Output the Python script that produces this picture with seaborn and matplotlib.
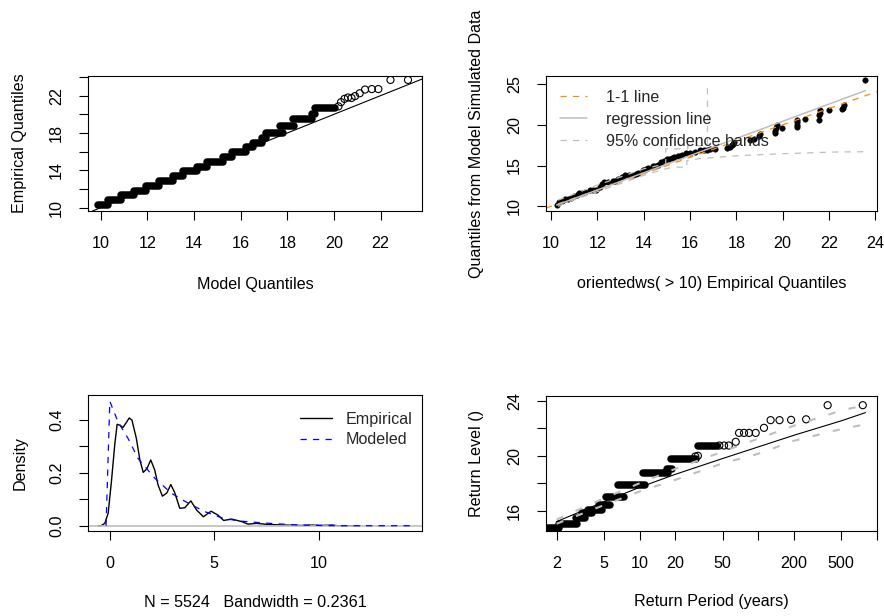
import numpy as np
import pandas as pd
import matplotlib
matplotlib.use("Agg")
import matplotlib.pyplot as plt
from matplotlib.ticker import NullLocator
import seaborn as sns

# ---------------- Quantile plot: empirical vs model quantiles ----------------
# tied empirical values form runs along the model-quantile axis
qq_level = [10.29, 10.80, 11.32, 11.83, 12.35, 12.86, 13.37, 13.89, 14.40, 14.92,
            15.43, 15.95, 16.46, 16.98, 17.49, 18.00, 18.75, 19.55, 20.06, 20.70]
qq_model_start = [9.90, 10.31, 10.88, 11.42, 11.95, 12.50, 13.10, 13.55, 14.15, 14.55,
                  15.25, 15.65, 16.25, 16.55, 16.90, 17.10, 17.70, 18.25, 19.05, 19.20]
qq_model_end = [10.31, 10.88, 11.42, 11.95, 12.50, 13.10, 13.55, 14.15, 14.55, 15.25,
                15.65, 16.25, 16.55, 16.90, 17.10, 17.80, 18.30, 19.05, 19.20, 20.05]
qq_tail_model = [20.19, 20.30, 20.45, 20.60, 20.75, 20.90, 21.10, 21.33, 21.62, 21.90, 22.42, 23.17]
qq_tail_emp = [20.85, 21.30, 21.65, 21.80, 21.75, 21.95, 22.25, 22.65, 22.70, 22.70, 23.68, 23.68]
ref_line = (0.0, 1.0)  # intercept, slope

# ---------------- Simulated vs empirical quantiles ----------------
sim_emp = [10.24, 10.36, 10.45, 10.58, 10.72, 10.86, 11.00, 11.10, 11.22, 11.35, 11.45,
           11.66, 11.80, 11.94, 12.10, 12.20, 12.30, 12.45, 12.66, 12.78, 12.90, 13.05,
           13.17, 13.35, 13.53, 13.65, 13.75, 13.96, 14.08, 14.20, 14.39, 14.50, 14.60,
           14.75, 14.88, 15.00, 15.11, 15.20, 15.30, 15.47, 15.56, 15.65, 15.83, 16.00,
           16.20, 16.44, 16.60, 16.73, 16.87, 17.09, 17.60, 17.74, 17.80, 17.85, 17.88,
           18.60, 18.75, 18.96, 19.00, 19.65, 19.68, 19.72, 19.75, 19.97, 20.62, 20.62,
           20.62, 20.62, 20.98, 21.58, 21.58, 21.60, 21.62, 21.99, 22.56, 22.60, 22.63,
           23.57]
sim_model = [10.20, 10.50, 10.60, 10.90, 10.95, 11.03, 11.20, 11.40, 11.60, 11.65, 11.70,
             11.94, 11.95, 12.00, 12.40, 12.70, 12.96, 13.00, 13.09, 13.15, 13.30, 13.55,
             13.79, 13.85, 13.90, 14.00, 14.10, 14.40, 14.55, 14.65, 14.90, 15.00, 15.10,
             15.43, 15.60, 15.80, 15.84, 15.90, 16.00, 16.13, 16.20, 16.30, 16.54, 16.60,
             16.70, 16.86, 16.88, 16.90, 17.07, 17.00, 17.10, 17.30, 17.50, 17.70, 17.90,
             18.10, 18.30, 18.60, 18.90, 19.00, 19.30, 19.60, 19.95, 19.60, 19.75, 20.00,
             20.30, 20.60, 20.70, 20.60, 21.20, 21.50, 21.80, 21.80, 21.90, 22.10, 22.40,
             25.50]
reg_x = [10.24, 23.57]
reg_y = [10.15, 24.20]
band_up_x = [10.30, 11.00, 12.00, 13.00, 14.00, 14.95, 14.95, 15.90, 15.90, 16.75, 16.75]
band_up_y = [10.75, 11.50, 12.60, 13.60, 14.60, 15.20, 17.05, 17.05, 17.45, 17.45, 25.10]
band_lo_x = [10.30, 11.00, 12.00, 13.00, 14.00, 14.95, 15.30, 15.86, 15.86, 16.40, 17.10, 18.00, 20.00, 22.20, 23.64]
band_lo_y = [10.00, 10.80, 11.80, 12.80, 13.80, 14.60, 14.80, 14.80, 15.60, 15.85, 16.00, 16.20, 16.45, 16.66, 16.70]

# ---------------- Density of excesses ----------------
emp_x = [-0.55, -0.42, -0.24, -0.08, 0.08, 0.24, 0.35, 0.50, 0.63, 0.80, 0.93, 1.06, 1.27,
         1.44, 1.60, 1.77, 1.96, 2.15, 2.31, 2.52, 2.73, 2.92, 3.11, 3.35, 3.59, 3.88, 4.16,
         4.48, 4.85, 5.18, 5.45, 5.84, 6.30, 6.62, 7.02, 7.54, 8.35, 9.15, 9.71, 10.10,
         10.67, 10.90, 12.00]
emp_y = [0.0, 0.0, 0.009, 0.047, 0.17, 0.31, 0.384, 0.380, 0.372, 0.392, 0.408, 0.400, 0.331,
         0.249, 0.202, 0.215, 0.249, 0.211, 0.154, 0.112, 0.124, 0.156, 0.125, 0.066, 0.068,
         0.094, 0.059, 0.034, 0.055, 0.040, 0.020, 0.025, 0.016, 0.006, 0.009, 0.005, 0.0025,
         0.001, 0.0025, 0.001, 0.0025, 0.0, 0.0]
mod_x = [-0.18, 0.0, 0.39, 0.87, 1.35, 2.15, 2.95, 3.76, 4.56, 5.36, 6.16, 6.96, 8.00,
         9.15, 10.75, 12.50, 14.40]
mod_y = [0.0, 0.471, 0.394, 0.331, 0.255, 0.180, 0.123, 0.085, 0.053, 0.030, 0.018, 0.013,
         0.007, 0.0025, 0.0, 0.0, 0.0]
density_label = "N = 5524   Bandwidth = 0.2361"

# ---------------- Return level plot ----------------
rl_level = [14.76, 15.01, 15.45, 15.80, 16.05, 16.45, 17.00, 17.87, 18.72, 19.03, 19.76, 20.73]
rl_period_start = [1.55, 2.11, 2.90, 3.30, 3.70, 4.60, 5.20, 6.60, 10.60, 17.00, 18.40, 30.80]
rl_period_end = [2.11, 3.00, 3.50, 4.00, 4.80, 5.60, 7.40, 11.20, 17.50, 18.80, 30.00, 45.00]
rl_tail_period = [29.5, 31.0, 47.0, 51.5, 56.5, 64.6, 68.9, 75.9, 83.6, 95.1, 111.7,
                  127.0, 151.0, 189.0, 253.0, 384.0, 759.0]
rl_tail_level = [19.95, 20.00, 20.75, 20.75, 20.75, 21.02, 21.67, 21.67, 21.67, 21.67, 22.04,
                 22.60, 22.60, 22.62, 22.66, 23.69, 23.69]
fit_period = [2, 5, 10, 20, 50, 100, 200, 500, 800]
fit_level = [15.20, 16.65, 17.70, 18.65, 19.80, 20.65, 21.50, 22.55, 23.15]
fit_upper = [15.35, 16.90, 18.00, 19.05, 20.30, 21.25, 22.20, 23.30, 23.70]
fit_lower = [15.05, 16.40, 17.40, 18.25, 19.45, 20.15, 21.10, 21.95, 22.30]

# ---------------- figure ----------------
sns.set_theme(style="ticks")
plt.rcParams["font.family"] = ["Liberation Sans", "DejaVu Sans"]
FS = 11.6
GREY = "#BEBEBE"
DASH = (0, (5, 5))

fig = plt.figure(figsize=(8.84, 6.16), dpi=100)
fig.patch.set_facecolor("white")
W, H = 884.0, 616.0


def panel(left, top, right, bottom):
    ax = fig.add_axes([left / W, 1 - bottom / H, (right - left) / W, (bottom - top) / H])
    ax.set_facecolor("white")
    return ax


def runs_frame(levels, starts, ends):
    rows = []
    for i, (lv, a, b) in enumerate(zip(levels, starts, ends)):
        rows.append({"x": a, "y": lv, "run": i})
        rows.append({"x": b, "y": lv, "run": i})
    return pd.DataFrame(rows)


def path(ax, x, y, **kw):
    sns.lineplot(x=x, y=y, sort=False, estimator=None, errorbar=None, legend=False,
                 ax=ax, **kw)


def frame(ax, xticks, xlabels, yticks, ylabels, xlabel, ylabel, xlab_y, ylab_x):
    ax.set_xticks(xticks)
    ax.set_xticklabels(xlabels)
    ax.set_yticks(yticks)
    ax.set_yticklabels(ylabels, rotation=90, va="center")
    ax.xaxis.set_minor_locator(NullLocator())
    ax.yaxis.set_minor_locator(NullLocator())
    ax.tick_params(direction="out", length=6.7, width=0.8, color="black",
                   labelsize=FS, labelcolor="black")
    ax.tick_params(axis="x", pad=11.0)
    ax.tick_params(axis="y", pad=10.5)
    for s in ax.spines.values():
        s.set_visible(True)
        s.set_color("black")
        s.set_linewidth(0.8)
    ax.set_xlabel(xlabel, fontsize=FS, color="black")
    ax.set_ylabel(ylabel, fontsize=FS, color="black")
    ax.xaxis.set_label_coords(0.5, xlab_y)
    ax.yaxis.set_label_coords(ylab_x, 0.5)
    ax.xaxis.label.set(va="center", ha="center")
    ax.yaxis.label.set(va="center", ha="center", rotation_mode="anchor")
    ax.grid(False)


# -- panel 1: QQ plot
ax1 = panel(88, 76, 422, 211)
sns.lineplot(data=runs_frame(qq_level, qq_model_start, qq_model_end), x="x", y="y",
             units="run", estimator=None, sort=False, color="black", linewidth=5.4,
             solid_capstyle="round", legend=False, ax=ax1)
sns.scatterplot(x=qq_tail_model, y=qq_tail_emp, marker="o", s=26, facecolor="none",
                edgecolor="black", linewidth=0.8, ax=ax1)
ax1.axline((0, ref_line[0]), slope=ref_line[1], color="black", lw=0.8)
ax1.set_xlim(9.46, 23.77)
ax1.set_ylim(9.65, 24.1)
frame(ax1, list(range(10, 23, 2)), [str(v) for v in range(10, 23, 2)],
      list(range(10, 25, 2)), ["10", "", "14", "", "18", "", "22", ""],
      "Model Quantiles", "Empirical Quantiles", -0.541, -0.204)

# -- panel 2: simulated quantiles
ax2 = panel(546, 76, 877, 211)
sns.scatterplot(x=sim_emp, y=sim_model, marker="o", s=16, color="black",
                edgecolor="black", linewidth=0.3, ax=ax2)
ax2.axline((0, ref_line[0]), slope=ref_line[1], color="darkorange", lw=0.9, linestyle=DASH)
path(ax2, reg_x, reg_y, color=GREY, lw=1.1)
path(ax2, band_up_x, band_up_y, color=GREY, lw=0.9, linestyle=DASH)
path(ax2, band_lo_x, band_lo_y, color=GREY, lw=0.9, linestyle=DASH)
ax2.set_xlim(9.78, 24.07)
ax2.set_ylim(9.42, 25.99)
frame(ax2, list(range(10, 25, 2)), [str(v) for v in range(10, 25, 2)],
      [10, 15, 20, 25], ["10", "15", "20", "25"],
      "orientedws( > 10) Empirical Quantiles", "Quantiles from Model Simulated Data",
      -0.536, -0.209)
h2 = [plt.Line2D([], [], color="darkorange", lw=0.9, linestyle=DASH),
      plt.Line2D([], [], color=GREY, lw=1.1),
      plt.Line2D([], [], color=GREY, lw=0.9, linestyle=DASH)]
ax2.legend(h2, ["1-1 line", "regression line", "95% confidence bands"],
           loc="upper left", bbox_to_anchor=(0.042, 0.9), frameon=False,
           fontsize=FS, borderpad=0, borderaxespad=0, handlelength=1.7,
           handletextpad=1.16, labelspacing=0.45)

# -- panel 3: density
ax3 = panel(88, 395, 422, 531)
path(ax3, emp_x, emp_y, color="black", lw=1.0)
ax3.axhline(0, color=GREY, lw=1.2)
path(ax3, mod_x, mod_y, color="blue", lw=0.9, linestyle=DASH)
ax3.set_xlim(-1.045, 14.95)
ax3.set_ylim(-0.02, 0.495)
frame(ax3, [0, 5, 10], ["0", "5", "10"],
      [0.0, 0.1, 0.2, 0.3, 0.4], ["0.0", "", "0.2", "", "0.4"],
      density_label, "Density", -0.527, -0.204)
h3 = [plt.Line2D([], [], color="black", lw=1.0),
      plt.Line2D([], [], color="blue", lw=0.9, linestyle=DASH)]
ax3.legend(h3, ["Empirical", "Modeled"], loc="upper left",
           bbox_to_anchor=(0.635, 0.878), frameon=False, fontsize=FS, borderpad=0,
           borderaxespad=0, handlelength=2.0, handletextpad=0.8, labelspacing=0.35)

# -- panel 4: return levels
ax4 = panel(546, 396, 877, 531)
ax4.set_xscale("log")
sns.lineplot(data=runs_frame(rl_level, rl_period_start, rl_period_end), x="x", y="y",
             units="run", estimator=None, sort=False, color="black", linewidth=5.4,
             solid_capstyle="round", legend=False, ax=ax4)
sns.scatterplot(x=rl_tail_period, y=rl_tail_level, marker="o", s=26, facecolor="none",
                edgecolor="black", linewidth=0.8, ax=ax4)
path(ax4, fit_period, fit_level, color="black", lw=0.8)
path(ax4, fit_period, fit_upper, color=GREY, lw=1.5, linestyle=(0, (3.5, 6.5)))
path(ax4, fit_period, fit_lower, color=GREY, lw=1.5, linestyle=(0, (3.5, 6.5)))
ax4.set_xlim(1.63, 975)
ax4.set_ylim(14.52, 24.36)
frame(ax4, [2, 5, 10, 20, 50, 100, 200, 500, 1000],
      ["2", "5", "10", "20", "50", "", "200", "500", ""],
      [16, 18, 20, 22, 24], ["16", "", "20", "", "24"],
      "Return Period (years)", "Return Level ()", -0.524, -0.209)

fig.savefig("out.png", dpi=100, facecolor="white")
